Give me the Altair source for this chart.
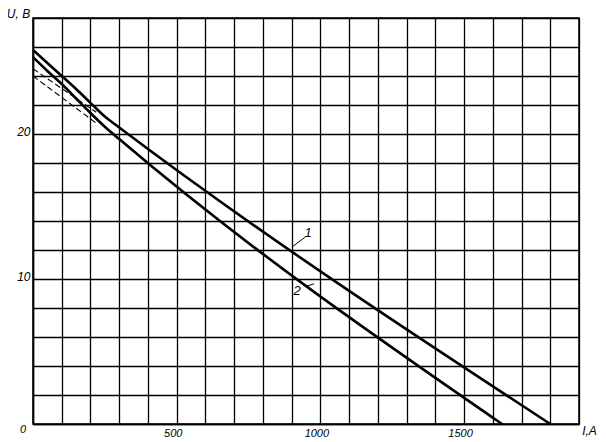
import altair as alt
import pandas as pd

# Curve 1 (upper) and curve 2 (lower): current I (A), voltage U (V)
i1 = [0, 50, 100, 150, 200, 250, 300, 1800]
u1 = [25.8, 24.9, 24.0, 23.1, 22.15, 21.2, 20.45, 0.0]
i2 = [0, 50, 100, 150, 200, 250, 300, 1632]
u2 = [25.3, 24.35, 23.45, 22.45, 21.45, 20.5, 19.65, 0.0]

# Dashed extrapolations of the straight parts towards I = 0
d1_i = [0, 220]
d1_u = [24.5, 21.5]
d2_i = [0, 220]
d2_u = [24.0, 20.75]

# Curve labels and leader lines
lab_text = ["1", "2"]
lab_i = [957, 919]
lab_u = [13.2, 9.2]
lead1_i = [905, 946]
lead1_u = [12.26, 12.87]
lead2_i = [946, 978]
lead2_u = [9.47, 9.67]

x_ticks = list(range(0, 1901, 100))
y_ticks = list(range(0, 29, 2))

FONT = "Liberation Sans"

xs = alt.Scale(domain=[0, 1900], nice=False, zero=False)
ys = alt.Scale(domain=[0, 28], nice=False, zero=False)

curves = pd.DataFrame(
    {"I": i1 + i2, "U": u1 + u2, "k": ["1"] * len(i1) + ["2"] * len(i2)}
)
dashed = pd.DataFrame(
    {"I": d1_i + d2_i, "U": d1_u + d2_u, "k": ["1"] * 2 + ["2"] * 2}
)
leaders = pd.DataFrame(
    {"I": lead1_i + lead2_i, "U": lead1_u + lead2_u, "k": ["1"] * 2 + ["2"] * 2}
)
labels = pd.DataFrame({"I": lab_i, "U": lab_u, "t": lab_text})
origin = pd.DataFrame({"I": [0], "U": [0], "t": ["0"]})

x_enc = alt.X(
    "I:Q",
    scale=xs,
    axis=alt.Axis(
        values=x_ticks,
        tickCount=40,
        grid=True,
        gridColor="black",
        gridWidth=1.3,
        gridOpacity=1,
        ticks=False,
        domainColor="black",
        domainWidth=1.5,
        labelExpr="datum.value > 0 && datum.value % 500 == 0 ? datum.label : ''",
        labelFont=FONT,
        labelFontStyle="italic",
        labelFontSize=11,
        labelColor="black",
        labelBaseline="top",
        labelPadding=3,
        labelOffset=-4,
        labelFlush=False,
        labelOverlap=False,
        format="d",
        title="I,A",
        titleFont=FONT,
        titleFontStyle="italic",
        titleFontWeight="normal",
        titleFontSize=12,
        titleColor="black",
        titleX=556,
        titleY=6,
        titleAlign="center",
        titleBaseline="middle",
    ),
)
y_enc = alt.Y(
    "U:Q",
    scale=ys,
    axis=alt.Axis(
        values=y_ticks,
        tickCount=40,
        grid=True,
        gridColor="black",
        gridWidth=1.3,
        gridOpacity=1,
        ticks=False,
        domainColor="black",
        domainWidth=1.5,
        labelExpr="datum.value > 0 && datum.value % 10 == 0 ? datum.label : ''",
        format="d",
        labelFont=FONT,
        labelFontStyle="italic",
        labelFontSize=12,
        labelColor="black",
        labelPadding=3,
        labelOffset=-3,
        labelFlush=False,
        labelOverlap=False,
        title="U, В",
        titleFont=FONT,
        titleFontStyle="italic",
        titleFontWeight="normal",
        titleFontSize=12,
        titleColor="black",
        titleAngle=0,
        titleX=-15,
        titleY=-5,
        titleAlign="center",
        titleBaseline="middle",
    ),
)

base_lines = (
    alt.Chart(curves)
    .mark_line(color="black", strokeWidth=2.6, interpolate="monotone")
    .encode(x=x_enc, y=y_enc, detail="k:N")
)
dash_lines = (
    alt.Chart(dashed)
    .mark_line(color="black", strokeWidth=1.1, strokeDash=[6, 3])
    .encode(x=alt.X("I:Q", scale=xs), y=alt.Y("U:Q", scale=ys), detail="k:N")
)
leader_lines = (
    alt.Chart(leaders)
    .mark_line(color="black", strokeWidth=1)
    .encode(x=alt.X("I:Q", scale=xs), y=alt.Y("U:Q", scale=ys), detail="k:N")
)
label_text = (
    alt.Chart(labels)
    .mark_text(font=FONT, fontStyle="italic", fontSize=13, color="black")
    .encode(x=alt.X("I:Q", scale=xs), y=alt.Y("U:Q", scale=ys), text="t:N")
)
origin_text = (
    alt.Chart(origin)
    .mark_text(font=FONT, fontStyle="italic", fontSize=11, color="black", dx=-10, dy=6)
    .encode(x=alt.X("I:Q", scale=xs), y=alt.Y("U:Q", scale=ys), text="t:N")
)

chart = (
    alt.layer(base_lines, dash_lines, leader_lines, label_text, origin_text)
    .properties(
        width=546,
        height=406,
        autosize=alt.AutoSizeParams(type="none"),
        padding={"left": 25, "top": 10, "right": 19, "bottom": 14},
        background="white",
    )
    .configure_view(stroke="black", strokeWidth=1.5)
)

chart.save("out.html", embed_options={"renderer": "svg", "actions": False})
